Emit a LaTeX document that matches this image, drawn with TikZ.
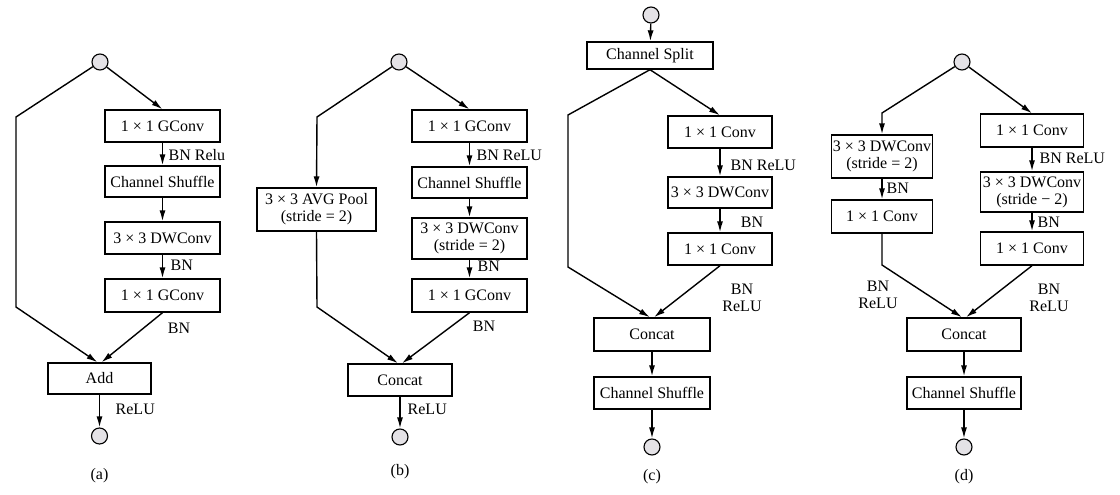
\documentclass[tikz,border=0pt]{standalone}
\usepackage{fontspec}
\setmainfont{Liberation Serif}
\usetikzlibrary{arrows.meta}
\definecolor{cgray}{HTML}{E4E2E6}
\begin{document}
\begin{tikzpicture}[x=1pt,y=-1pt,
  font=\fontsize{16}{17}\selectfont,
  line width=1.4pt,
  box/.style={draw, line width=1.4pt, inner sep=0pt, align=center},
  io/.style={draw, circle, fill=cgray, minimum size=16pt, inner sep=0pt, line width=1.1pt},
  lbl/.style={inner sep=0pt, align=center},
  arr/.style={-{Latex[length=11pt,width=6pt]}}
]
\useasboundingbox (0,0) rectangle (1120,495);

% ---------- (a) ----------
\node[io] (ca0) at (100,62) {};
\node[box, minimum width=115, minimum height=32] (a1) at (162.5,126) {1 × 1 GConv};
\node[box, minimum width=115, minimum height=31] (a2) at (162.5,181.5) {Channel Shuffle};
\node[box, minimum width=115, minimum height=32] (a3) at (162.5,238) {3 × 3 DWConv};
\node[box, minimum width=115, minimum height=33] (a4) at (162.5,295.5) {1 × 1 GConv};
\node[box, minimum width=103, minimum height=31] (aadd) at (99.5,378.5) {Add};
\node[io] (ca1) at (99.5,436) {};
\coordinate (ak1) at (16,117);
\coordinate (ak2) at (16,307);
\draw[arr] (ca0) -- (ak1) -- (ak2) -- ([xshift=-2pt]aadd.north);
\draw[arr] (ca0) -- (a1.north);
\draw[arr] (a1) -- (a2);
\draw[arr] (a2) -- (a3);
\draw[arr] (a3) -- (a4);
\draw[arr] (a4.south) -- ([xshift=2pt]aadd.north);
\draw[arr] (aadd) -- (ca1);
\node[lbl, anchor=west] (la1) at (168,155) {BN Relu};
\node[lbl, anchor=west] (la2) at (170,265) {BN};
\node[lbl] (la3) at (179,328) {BN};
\node[lbl, anchor=west] (la4) at (115,409) {ReLU};
\node[lbl] (capa) at (99.5,476) {(a)};

% ---------- (b) ----------
\node[io] (cb0) at (399,62) {};
\node[box, minimum width=119, minimum height=43] (bpool) at (316.5,209.5) {3 × 3 AVG Pool\\(stride = 2)};
\node[box, minimum width=115, minimum height=32] (b1) at (469.5,126) {1 × 1 GConv};
\node[box, minimum width=115, minimum height=31] (b2) at (469.5,182.5) {Channel Shuffle};
\node[box, minimum width=115, minimum height=41] (b3) at (469.5,238.5) {3 × 3 DWConv\\(stride = 2)};
\node[box, minimum width=115, minimum height=33] (b4) at (469.5,295.5) {1 × 1 GConv};
\node[box, minimum width=104, minimum height=32] (bcat) at (400,380) {Concat};
\node[io] (cb1) at (400,437) {};
\coordinate (bk1) at (317,117);
\coordinate (bk2) at (317,307);
\draw[arr] (cb0) -- (bk1) -- (bpool.north);
\draw[arr] (bpool.south) -- (bk2) -- ([xshift=-2pt]bcat.north);
\draw[arr] (cb0) -- (b1.north);
\draw[arr] (b1) -- (b2);
\draw[arr] (b2) -- (b3);
\draw[arr] (b3) -- (b4);
\draw[arr] (b4.south) -- ([xshift=2pt]bcat.north);
\draw[arr] (bcat) -- (cb1);
\node[lbl, anchor=west] (lb1) at (476,155) {BN ReLU};
\node[lbl, anchor=west] (lb2) at (477,266) {BN};
\node[lbl] (lb3) at (484,326) {BN};
\node[lbl, anchor=west] (lb4) at (407,409) {ReLU};
\node[lbl] (capb) at (400,472) {(b)};

% ---------- (c) ----------
\node[io] (cc0) at (651,15) {};
\node[box, minimum width=126, minimum height=27] (csplit) at (650,55.5) {Channel Split};
\node[box, minimum width=104, minimum height=32] (c1) at (720,132) {1 × 1 Conv};
\node[box, minimum width=104, minimum height=31] (c2) at (720,192.5) {3 × 3 DWConv};
\node[box, minimum width=104, minimum height=32] (c3) at (720,249) {1 × 1 Conv};
\node[box, minimum width=116, minimum height=33] (ccat) at (652,334.5) {Concat};
\node[box, minimum width=116, minimum height=32] (cshuf) at (652,393) {Channel Shuffle};
\node[io] (cc1) at (652,447) {};
\coordinate (ck1) at (568,115);
\coordinate (ck2) at (568,267);
\draw[arr] (cc0) -- (csplit);
\draw[arr] (csplit.south) -- (ck1) -- (ck2) -- ([xshift=-2pt]ccat.north);
\draw[arr] (csplit.south) -- (c1.north);
\draw[arr] (c1) -- (c2);
\draw[arr] (c2) -- (c3);
\draw[arr] (c3.south) -- ([xshift=2pt]ccat.north);
\draw[arr] (ccat) -- (cshuf);
\draw[arr] (cshuf) -- (cc1);
\node[lbl, anchor=west] (lc1) at (730,165) {BN ReLU};
\node[lbl] (lc2) at (752,222) {BN};
\node[lbl] (lc3) at (742,298) {BN\\ReLU};
\node[lbl] (capc) at (652,477) {(c)};

% ---------- (d) ----------
\node[io] (cd0) at (962,62) {};
\node[box, minimum width=101, minimum height=43] (dl1) at (882,156.5) {3 × 3 DWConv\\(stride = 2)};
\node[box, minimum width=101, minimum height=33] (dl2) at (882,216.5) {1 × 1 Conv};
\node[box, minimum width=103, minimum height=33] (dr1) at (1032,130.5) {1 × 1 Conv};
\node[box, minimum width=103, minimum height=40] (dr2) at (1032,192) {3 × 3 DWConv\\(stride − 2)};
\node[box, minimum width=103, minimum height=33] (dr3) at (1032,248.5) {1 × 1 Conv};
\node[box, minimum width=114, minimum height=33] (dcat) at (964,334.5) {Concat};
\node[box, minimum width=114, minimum height=32] (dshuf) at (964,393) {Channel Shuffle};
\node[io] (cd1) at (964,447) {};
\coordinate (dk1) at (882,113);
\coordinate (dk2) at (882,265);
\draw[arr] (cd0) -- (dk1) -- (dl1.north);
\draw[arr] (dl1) -- (dl2);
\draw[arr] (dl2.south) -- (dk2) -- ([xshift=-2pt]dcat.north);
\draw[arr] (cd0) -- (dr1.north);
\draw[arr] (dr1) -- (dr2);
\draw[arr] (dr2) -- (dr3);
\draw[arr] (dr3.south) -- ([xshift=2pt]dcat.north);
\draw[arr] (dcat) -- (dshuf);
\draw[arr] (dshuf) -- (cd1);
\node[lbl, anchor=west] (ld1) at (886,188) {BN};
\node[lbl] (ld2) at (878,295) {BN\\ReLU};
\node[lbl, anchor=west] (ld3) at (1039,158) {BN ReLU};
\node[lbl, anchor=west] (ld4) at (1037,222) {BN};
\node[lbl] (ld5) at (1049,298) {BN\\ReLU};
\node[lbl] (capd) at (964,477) {(d)};
\end{tikzpicture}
\end{document}
